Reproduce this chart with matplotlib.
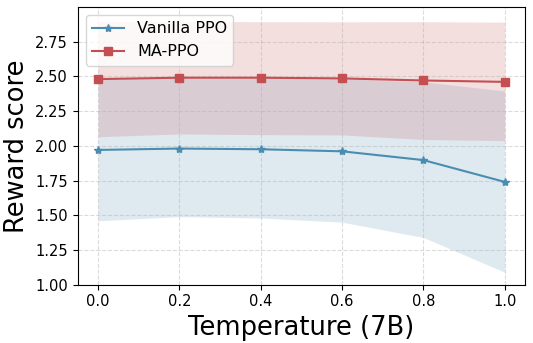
import numpy as np
import matplotlib
matplotlib.use("Agg")
import matplotlib.pyplot as plt

temps = [0.0, 0.2, 0.4, 0.6, 0.8, 1.0]

vanilla_mean = [1.97, 1.98, 1.975, 1.96, 1.897, 1.74]
vanilla_low = [1.46, 1.49, 1.48, 1.45, 1.34, 1.09]
vanilla_high = [2.48, 2.487, 2.487, 2.482, 2.46, 2.395]

ma_mean = [2.48, 2.49, 2.49, 2.485, 2.47, 2.46]
ma_low = [2.065, 2.085, 2.08, 2.078, 2.045, 2.037]
ma_high = [2.895, 2.895, 2.893, 2.892, 2.893, 2.89]

blue = "#4a8db0"
red = "#c44e52"

fig, ax = plt.subplots(figsize=(5.33, 3.43), dpi=100)

ax.fill_between(temps, vanilla_low, vanilla_high, color=blue, alpha=0.18, linewidth=0)
ax.fill_between(temps, ma_low, ma_high, color=red, alpha=0.18, linewidth=0)
ax.plot(temps, vanilla_mean, color=blue, marker="*", markersize=6, linewidth=1.5, label="Vanilla PPO")
ax.plot(temps, ma_mean, color=red, marker="s", markersize=5.5, linewidth=1.5, label="MA-PPO")

ax.set_xlim(-0.05, 1.05)
ax.set_ylim(1.0, 3.0)
ax.set_xticks(temps)
ax.set_yticks([1.0, 1.25, 1.5, 1.75, 2.0, 2.25, 2.5, 2.75])
ax.set_yticklabels(["1.00", "1.25", "1.50", "1.75", "2.00", "2.25", "2.50", "2.75"])
ax.tick_params(labelsize=10.5)
ax.grid(True, linestyle="--", alpha=0.45)
ax.set_xlabel("Temperature (7B)", fontsize=18.5)
ax.set_ylabel("Reward score", fontsize=18.5)
ax.legend(loc="upper left", fontsize=11.5)

plt.subplots_adjust(left=0.146, right=0.985, top=0.98, bottom=0.17)
plt.savefig("out.png", dpi=100)
